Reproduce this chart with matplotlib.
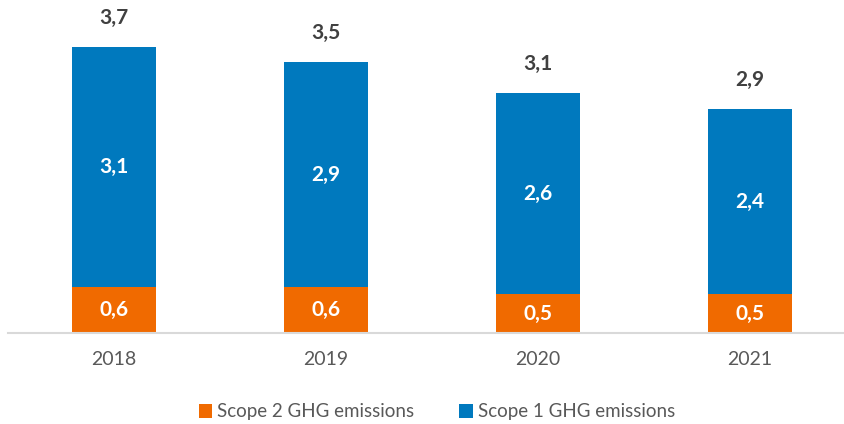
import matplotlib
matplotlib.use("Agg")
import matplotlib.pyplot as plt
from matplotlib.patches import Patch

years = ["2018", "2019", "2020", "2021"]
scope2 = [0.6, 0.6, 0.5, 0.5]
scope1 = [3.1, 2.9, 2.6, 2.4]
totals = [3.7, 3.5, 3.1, 2.9]
series_names = ["Scope 2 GHG emissions", "Scope 1 GHG emissions"]

ORANGE = "#F06A00"
BLUE = "#0079BE"

plt.rcParams['font.family'] = ['Lato', 'DejaVu Sans']

W, H = 844, 424
fig = plt.figure(figsize=(W / 100, H / 100), dpi=100)
ax = fig.add_axes([8 / W, (H - 333) / H, 836 / W, 333 / H])

x = list(range(len(years)))
bw = 0.40
ax.bar(x, scope2, width=bw, color=ORANGE, label=series_names[0])
ax.bar(x, scope1, width=bw, bottom=scope2, color=BLUE, label=series_names[1])

fmt = lambda v: f"{v:.1f}".replace(".", ",")
for i in x:
    ax.text(i, scope2[i] / 2, fmt(scope2[i]), ha="center", va="center",
            color="white", fontsize=15, fontweight="bold")
    ax.text(i, scope2[i] + scope1[i] / 2, fmt(scope1[i]), ha="center", va="center",
            color="white", fontsize=15, fontweight="bold")
    ax.annotate(fmt(totals[i]), (i, scope2[i] + scope1[i]), xytext=(0, 21),
                textcoords="offset points", ha="center", va="center",
                color="#404040", fontsize=15, fontweight="bold")

ax.set_xlim(-0.5, 3.5 - 12 / 212)
ax.set_ylim(0, 333 / 77.3)
ax.set_xticks(x)
ax.set_xticklabels(years, fontsize=14, color="#595959")
ax.tick_params(axis="x", length=0, pad=13)
ax.set_yticks([])
for s in ["top", "right", "left"]:
    ax.spines[s].set_visible(False)
ax.spines["bottom"].set_color("#D9D9D9")
ax.spines["bottom"].set_linewidth(1.5)

handles = [Patch(facecolor=ORANGE), Patch(facecolor=BLUE)]
fig.legend(handles, series_names, loc="center", bbox_to_anchor=(437 / W, 1 - 412 / H),
           ncol=2, frameon=False, fontsize=13.5, labelcolor="#595959",
           handlelength=0.7, handleheight=0.7, handletextpad=0.3, columnspacing=2.4)

fig.savefig("out.png", dpi=100)
